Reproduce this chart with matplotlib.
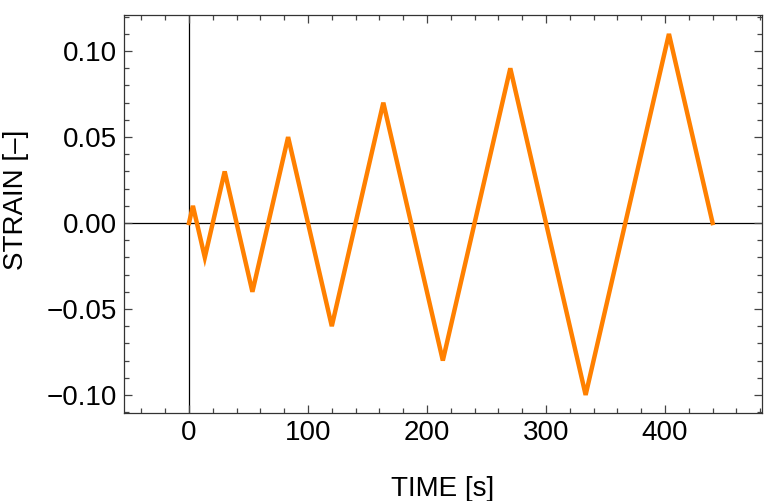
import matplotlib
matplotlib.use("Agg")
import matplotlib.pyplot as plt
from matplotlib.ticker import MultipleLocator, FuncFormatter

# turning points of the strain history
time_s = [0, 3.3, 13.3, 30, 53.3, 83.3, 120, 163.3, 213.3, 270, 333.3, 403.3, 440]
strain = [0, 0.01, -0.02, 0.03, -0.04, 0.05, -0.06, 0.07, -0.08, 0.09, -0.10, 0.11, 0]

plt.rcParams['font.family'] = ['Liberation Sans', 'DejaVu Sans']
plt.rcParams['font.size'] = 20

fig = plt.figure(figsize=(7.65, 5.01), dpi=100)
ax = fig.add_axes([124/765, 1 - 413/501, 638/765, 398/501])

ax.axhline(0, color='black', lw=0.9, zorder=1)
ax.axvline(0, color='black', lw=0.9, zorder=1)
ax.plot(time_s, strain, color='#ff8000', lw=3.2, solid_joinstyle='miter', zorder=2)

ax.set_xlim(-54.6, 481.5)
ax.set_ylim(-0.1105, 0.121)

ax.xaxis.set_major_locator(MultipleLocator(100))
ax.xaxis.set_minor_locator(MultipleLocator(20))
ax.yaxis.set_major_locator(MultipleLocator(0.05))
ax.yaxis.set_minor_locator(MultipleLocator(0.01))
ax.yaxis.set_major_formatter(FuncFormatter(lambda v, p: f'{v:.2f}'.replace('-', '\u2212')))

ax.tick_params(which='both', direction='in', top=True, right=True, colors='#444444',
               labelcolor='black', width=0.9)
ax.tick_params(which='major', length=5.5, pad=5, labelsize=20)
ax.tick_params(which='minor', length=3.6)
for s in ax.spines.values():
    s.set_color('#333333')
    s.set_linewidth(0.9)

ax.set_xlabel('TIME [s]', fontsize=20)
ax.set_ylabel('STRAIN [–]', fontsize=20)
ax.xaxis.set_label_coords(0.5, -0.158)
ax.yaxis.set_label_coords(-0.149, 0.535)

plt.savefig('out.png', dpi=100)
